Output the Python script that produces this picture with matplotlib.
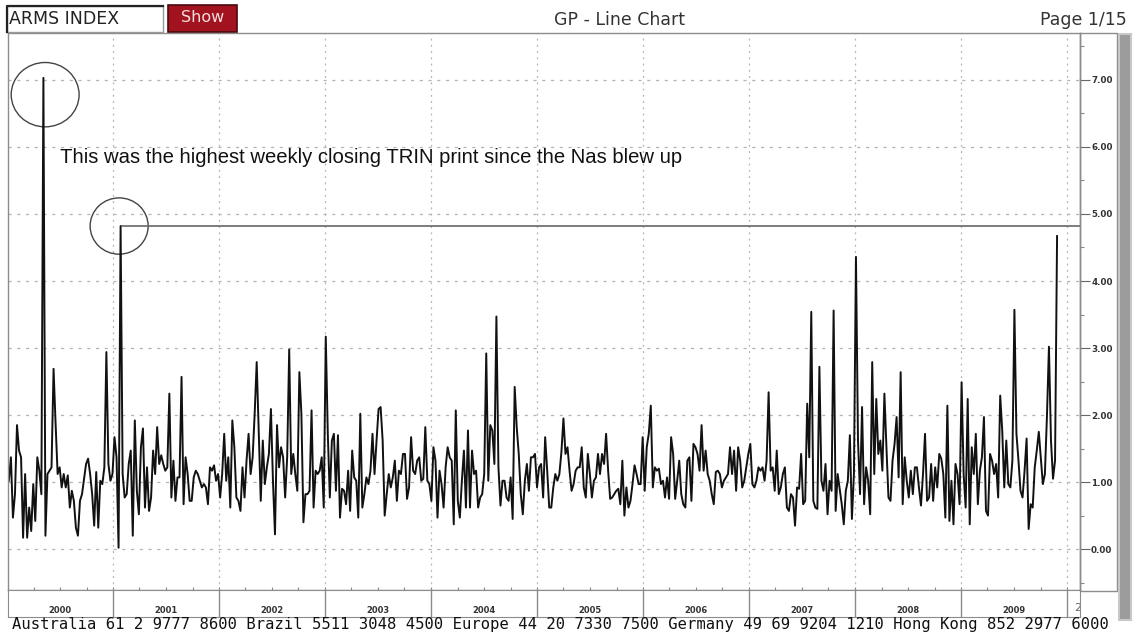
import numpy as np
import pandas as pd
import matplotlib
matplotlib.use("Agg")
import matplotlib.pyplot as plt
import matplotlib.dates as mdates
from matplotlib.patches import Ellipse, Rectangle
from matplotlib.lines import Line2D

# weekly closing ARMS index (TRIN)
seg1 = [1.02, 1.37, 0.47, 0.82, 1.85, 1.47, 1.37, 0.17, 1.12, 0.17,
        0.62, 0.27, 0.97, 0.42, 1.37, 1.17, 0.82, 7.03, 0.20, 1.12,
        1.17, 1.22, 2.69, 1.87, 1.12, 1.22, 0.92, 1.12, 0.92, 1.10,
        0.62, 0.87, 0.72, 0.32, 0.20, 0.72, 0.82, 1.05, 1.27, 1.35,
        1.12, 0.82, 0.35, 1.15, 0.32, 1.02, 0.97, 1.22, 2.94, 1.27,
        1.02, 1.12, 1.67, 1.37, 0.02, 4.82, 1.12, 0.77, 0.82, 1.27,
        1.47, 0.20, 1.92, 0.87, 0.52, 1.52]
seg2 = [1.80, 0.62, 1.22, 0.57, 0.77, 1.47, 1.12, 1.82, 1.27, 1.40,
        1.27, 1.17, 1.22, 2.32, 0.77, 1.32, 0.72, 1.07, 1.07, 2.57,
        0.67, 1.37, 1.12, 0.72, 0.72, 1.07, 1.17, 1.12, 1.02, 0.92,
        0.97, 0.92, 0.67, 1.22, 1.17, 1.25, 1.02, 1.12, 0.77, 1.12,
        1.72, 1.02, 1.37, 0.62, 1.92, 1.52, 0.77, 0.72, 0.57, 1.22,
        0.77, 1.32, 1.72, 1.12, 1.37, 2.02, 2.79, 1.77, 0.72, 1.62,
        0.97, 1.22, 1.42, 2.09, 1.02, 0.22]
seg3 = [1.85, 1.22, 1.52, 1.37, 0.77, 1.37, 2.98, 1.12, 1.42, 1.12,
        0.87, 2.64, 2.02, 0.40, 0.82, 0.82, 0.87, 2.07, 0.62, 1.17,
        1.12, 1.17, 1.37, 0.62, 3.17, 1.72, 0.77, 1.62, 1.72, 0.87,
        1.70, 0.47, 0.90, 0.87, 0.67, 1.17, 0.57, 1.47, 1.07, 1.02,
        0.47, 2.02, 0.62, 0.82, 1.07, 0.97, 1.17, 1.72, 1.12, 1.62,
        2.09, 2.12, 1.62, 0.50, 0.82, 1.12, 0.92, 1.07, 1.32, 0.72,
        1.17, 1.12, 1.42, 1.42, 0.75, 0.92]
seg4 = [1.67, 1.17, 1.12, 1.32, 1.37, 1.02, 1.05, 1.82, 1.02, 0.97,
        0.72, 1.52, 1.32, 0.47, 1.17, 0.97, 0.62, 1.22, 1.52, 1.37,
        1.32, 0.37, 2.07, 0.72, 0.47, 1.02, 1.47, 0.62, 1.77, 0.62,
        1.47, 1.12, 1.17, 0.62, 0.77, 0.82, 1.12, 2.92, 1.02, 1.85,
        1.77, 1.27, 3.47, 1.22, 0.65, 1.02, 1.02, 0.77, 0.72, 1.07,
        0.45, 2.42, 1.82, 1.42, 0.82, 0.52, 1.02, 1.27, 0.87, 1.37,
        1.37, 1.42, 0.92, 1.22, 1.27, 0.77]
seg5 = [1.67, 1.17, 0.62, 0.62, 0.92, 1.12, 1.02, 1.12, 1.45, 1.95,
        1.42, 1.52, 1.17, 0.87, 0.97, 1.17, 1.22, 1.22, 1.52, 0.92,
        0.77, 1.42, 1.12, 0.77, 1.02, 1.07, 1.42, 1.12, 1.42, 1.27,
        1.72, 1.17, 0.75, 0.77, 0.82, 0.87, 0.90, 0.67, 1.32, 0.50,
        0.92, 0.62, 0.72, 0.97, 1.25, 1.12, 0.97, 0.97, 1.67, 0.87,
        1.52, 1.72, 2.14, 0.92, 1.22, 1.17, 1.20, 0.97, 1.02, 0.77,
        1.07, 0.75, 1.67, 1.42, 0.75, 1.02]
seg6 = [1.32, 0.82, 0.67, 0.62, 1.32, 1.37, 0.72, 1.57, 1.52, 1.42,
        1.17, 1.85, 1.17, 1.47, 1.12, 1.02, 0.82, 0.67, 1.15, 1.17,
        1.12, 0.92, 1.02, 1.07, 1.12, 1.52, 1.12, 1.47, 0.87, 1.52,
        1.32, 0.92, 1.02, 1.22, 1.42, 1.57, 0.97, 0.92, 1.02, 1.22,
        1.17, 1.22, 1.02, 1.32, 2.34, 1.17, 1.22, 0.87, 1.47, 0.82,
        0.92, 1.12, 1.22, 0.62, 0.57, 0.82, 0.77, 0.35, 0.92, 0.90,
        1.42, 0.67, 0.72, 2.17, 1.37, 3.54, 0.72]
seg7 = [0.62, 0.60, 2.72, 1.02, 0.87, 1.27, 0.52, 1.02, 0.87, 3.56,
        0.57, 1.12, 0.90, 0.67, 0.37, 0.87, 1.02, 1.70, 0.45, 1.12,
        4.36, 1.62, 0.82, 2.12, 0.67, 1.22, 1.02, 0.52, 2.79, 1.12,
        2.24, 1.42, 1.62, 1.17, 2.32, 1.52, 0.77, 0.72, 1.32, 1.57,
        1.97, 1.07, 2.64, 0.67, 1.37, 1.02, 0.77, 1.17, 0.82, 1.22,
        1.22, 0.92, 0.65, 1.12, 1.72, 0.72, 0.77, 1.27, 0.72, 1.22,
        0.92, 1.42, 1.35, 1.12, 0.47, 2.14]
seg8 = [0.42, 1.02, 0.37, 1.27, 1.12, 0.67, 2.49, 1.12, 0.62, 2.24,
        0.37, 1.52, 1.12, 1.72, 0.67, 1.17, 1.37, 1.97, 0.57, 0.50,
        1.42, 1.32, 1.12, 1.27, 0.77, 2.29, 1.77, 0.92, 1.62, 0.97,
        0.92, 1.32, 3.57, 1.72, 1.32, 0.87, 0.77, 1.17, 1.65, 0.30,
        0.67, 0.62, 1.22, 1.47, 1.75, 1.37, 0.97, 1.12, 1.97, 3.02,
        1.62, 1.05, 1.32, 4.67]

years = list(range(2000, 2010))
y_ticks = [0, 1, 2, 3, 4, 5, 6, 7]
note = "This was the highest weekly closing TRIN print since the Nas blew up"
footer = ("Australia 61 2 9777 8600 Brazil 5511 3048 4500 Europe 44 20 7330 7500 "
          "Germany 49 69 9204 1210 Hong Kong 852 2977 6000")

trin = np.array(seg1 + seg2 + seg3 + seg4 + seg5 + seg6 + seg7 + seg8)
dates = pd.date_range("2000-01-07", periods=len(trin), freq="W-FRI")

W, H = 1134, 633
fig = plt.figure(figsize=(W / 100, H / 100), dpi=100)


def fx(px):
    return px / W


def fy(py):
    return 1 - py / H


grid_col = "#b4b4b4"
frame_col = "#8c8c8c"

# main chart area
ax = fig.add_axes([fx(8), fy(590), fx(1080) - fx(8), fy(33) - fy(590)])
ax.plot(dates, trin, color="#111111", lw=1.4)

xmin, xmax = pd.Timestamp("2000-01-04"), pd.Timestamp("2010-02-14")
ax.set_xlim(xmin, xmax)
ax.set_ylim(-0.61, 7.70)

# level of the Jan 2001 print carried across
i2 = int(np.argmax(trin[40:80])) + 40
ax.hlines(trin[i2], dates[i2], xmax, color="#666666", lw=1.2)

# circles round the two prints
i1 = int(np.argmax(trin))
d1 = mdates.date2num(dates[i1]) + 6
d2 = mdates.date2num(dates[i2]) - 5
ax.add_patch(Ellipse((d1, trin[i1] - 0.25), 234, 0.96, fill=False,
                     ec="#444444", lw=1.0))
ax.add_patch(Ellipse((d2, trin[i2]), 200, 0.84, fill=False,
                     ec="#444444", lw=1.0))

ax.text(0.0485, 0.776, note, transform=ax.transAxes, fontsize=14.6,
        family="Liberation Sans", va="center", ha="left", color="#111111")

# grid
year_starts = [pd.Timestamp(f"{y}-01-01") for y in years[1:] + [2010]]
for d in year_starts:
    ax.axvline(d, color=grid_col, lw=0.9, ls=(0, (1.5, 3.5)), zorder=0)
for v in y_ticks:
    ax.axhline(v, color=grid_col, lw=0.9, ls=(0, (2.5, 4.5)), zorder=0)

ax.yaxis.tick_right()
ax.set_yticks(y_ticks)
ax.set_yticklabels([f"{v:.2f}" for v in y_ticks], fontsize=6.3,
                   fontweight="bold", color="#333333")
ax.set_yticks(np.arange(-0.5, 7.6, 0.5), minor=True)
ax.tick_params(axis="y", which="major", length=7, width=0.8,
               color="#666666", pad=1)
ax.tick_params(axis="y", which="minor", length=3, width=0.8,
               color="#888888")
ax.set_xticks([])
ax.xaxis.set_minor_locator(mdates.MonthLocator(bymonth=[1, 4, 7, 10]))
ax.tick_params(axis="x", which="minor", direction="inout", length=5,
               width=0.8, color="#888888", labelbottom=False)
for s in ax.spines.values():
    s.set_color(frame_col)
    s.set_linewidth(1.0)
ax.spines["right"].set_color("#707070")

# year band under the chart
band = fig.add_axes([fx(8), fy(617), fx(1080) - fx(8), fy(590) - fy(617)])
band.set_xlim(xmin, xmax)
band.set_ylim(0, 1)
band.set_xticks([])
band.set_yticks([])
for s in band.spines.values():
    s.set_color(frame_col)
for d in year_starts:
    band.axvline(d, color="#8a8a8a", lw=1.0)
for y in years:
    band.text(pd.Timestamp(f"{y}-07-02"), 0.25, str(y), ha="center",
              va="center", fontsize=6, fontweight="bold", color="#333333")
band.text(pd.Timestamp("2010-01-25"), 0.35, "2", ha="left", va="center",
          fontsize=8, color="#666666", clip_on=True)

# right label box and scroll bar
fig.add_artist(Rectangle((fx(1080), fy(591)), fx(1117) - fx(1080),
                         fy(33) - fy(591), fill=False, ec=frame_col, lw=1.0))
fig.add_artist(Rectangle((fx(1119), fy(620)), fx(1131) - fx(1119),
                         fy(34) - fy(620), fc="#9c9c9c", ec="#c8c8c8", lw=1.5))

# header
fig.add_artist(Rectangle((fx(7), fy(32)), fx(163) - fx(7), fy(6) - fy(32),
                         fc="white", ec="#9a9a9a", lw=1.0))
fig.add_artist(Line2D([fx(7), fx(7), fx(163)], [fy(32), fy(6), fy(6)],
                      color="#222222", lw=1.6))
fig.text(fx(9), fy(19), "ARMS INDEX", fontsize=12.5, family="DejaVu Sans",
         va="center", ha="left", color="#222222")
fig.add_artist(Rectangle((fx(168), fy(32)), fx(237) - fx(168), fy(5) - fy(32),
                         fc="#a3121f", ec="#4a0a0e", lw=1.2))
fig.text(fx(203), fy(17), "Show", fontsize=11.5, family="DejaVu Sans",
         va="center", ha="center", color="#f4dede")
fig.text(fx(620), fy(20), "GP - Line Chart", fontsize=12.5,
         family="DejaVu Sans", va="center", ha="center", color="#333333")
fig.text(fx(1127), fy(20), "Page 1/15", fontsize=12.5, family="DejaVu Sans",
         va="center", ha="right", color="#333333")

# footer line of contact numbers
fig.text(fx(12), fy(629), footer, fontsize=11.2, family="DejaVu Sans Mono",
         va="baseline", ha="left", color="#111111")

fig.savefig("out.png", dpi=100)
